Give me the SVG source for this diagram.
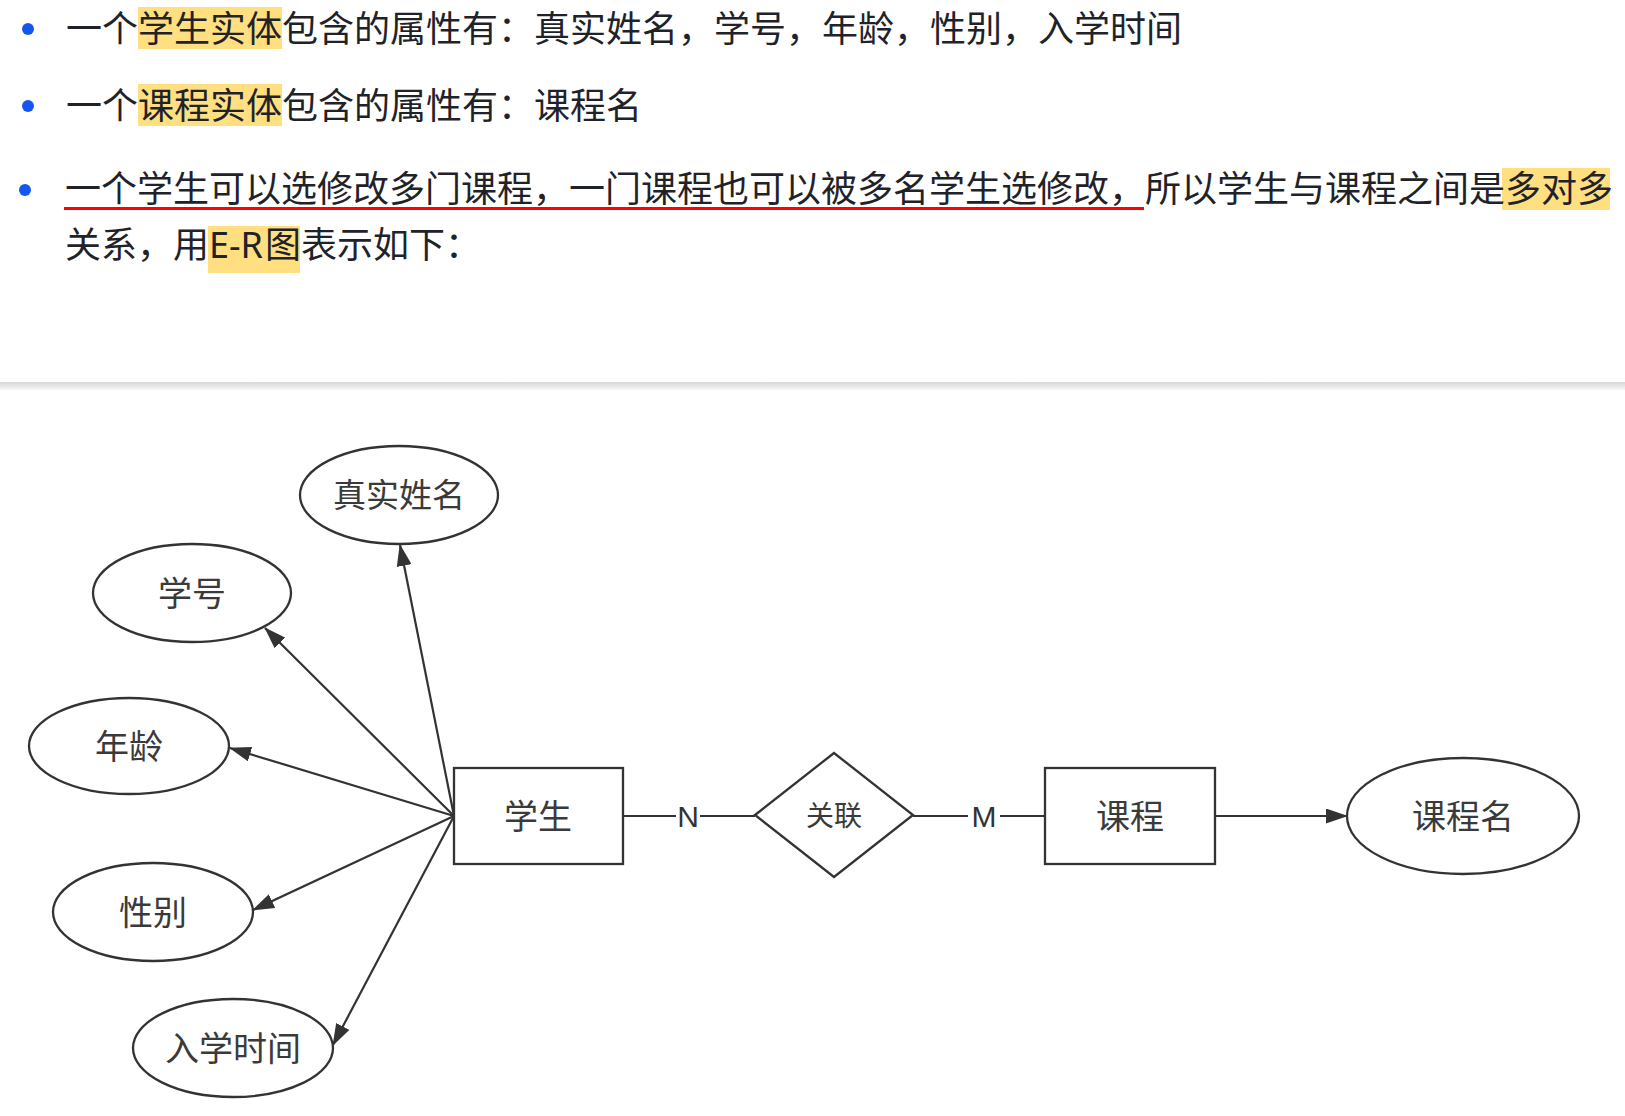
<svg xmlns="http://www.w3.org/2000/svg" width="1625" height="1116" viewBox="0 0 1625 1116">
<defs>
<style>
.t{font-family:"Noto Sans CJK SC","Noto Sans",sans-serif;font-size:36px;fill:#1f2329}
.hl{fill:#ffdf80}
.bul{fill:#1456f0}
.shape{fill:#ffffff;stroke:#333333;stroke-width:2.3}
.lbl{font-family:"Noto Sans CJK SC","Noto Sans",sans-serif;fill:#3a3a3a;text-anchor:middle}
.edge{stroke:#333333;stroke-width:2.2;fill:none}
.card{font-family:"Liberation Sans",Arial,sans-serif;font-size:30px;fill:#333333;text-anchor:middle}
</style>
<linearGradient id="sep" x1="0" y1="0" x2="0" y2="1">
<stop offset="0" stop-color="#d8d8d8"/>
<stop offset="1" stop-color="#f6f6f6"/>
</linearGradient>
<marker id="arr" viewBox="0 0 22 15" refX="21" refY="7.5" markerWidth="22" markerHeight="15" markerUnits="userSpaceOnUse" orient="auto">
<path d="M0,0 L22,7.5 L0,15 z" fill="#333333"/>
</marker>
</defs>
<rect x="0" y="0" width="1625" height="1116" fill="#ffffff"/>

<g id="text-block">
<circle class="bul" cx="28" cy="29" r="6"/>
<rect class="hl" x="138" y="7" width="144" height="42"/>
<text class="t" x="66" y="42">一个学生实体包含的属性有：真实姓名，学号，年龄，性别，入学时间</text>

<circle class="bul" cx="28" cy="106" r="6"/>
<rect class="hl" x="138" y="84" width="144" height="42"/>
<text class="t" x="66" y="119">一个课程实体包含的属性有：课程名</text>

<circle class="bul" cx="25" cy="190" r="6"/>
<rect class="hl" x="1502" y="168" width="108" height="42"/>
<rect x="64" y="207" width="1080" height="3" fill="#ff0000"/>
<text class="t" x="65" y="202">一个学生可以选修改多门课程，一门课程也可以被多名学生选修改，所以学生与课程之间是多对多</text>

<rect class="hl" x="208" y="226" width="92" height="47"/>
<text class="t" y="258"><tspan x="65">关系，用</tspan><tspan x="209" font-family="'Noto Sans',sans-serif">E-R</tspan><tspan x="265">图表示如下：</tspan></text>
</g>

<rect x="0" y="382" width="1625" height="8" fill="url(#sep)"/>

<g id="connectors">
<line class="edge" x1="454" y1="816" x2="400" y2="545" marker-end="url(#arr)"/>
<line class="edge" x1="454" y1="816" x2="265" y2="628" marker-end="url(#arr)"/>
<line class="edge" x1="454" y1="816" x2="230" y2="748" marker-end="url(#arr)"/>
<line class="edge" x1="454" y1="816" x2="253" y2="910" marker-end="url(#arr)"/>
<line class="edge" x1="454" y1="816" x2="333" y2="1045" marker-end="url(#arr)"/>
<line class="edge" x1="623" y1="816" x2="676" y2="816"/>
<text class="card" x="688" y="827">N</text>
<line class="edge" x1="700" y1="816" x2="755" y2="816"/>
<line class="edge" x1="913" y1="816" x2="968" y2="816"/>
<text class="card" x="984" y="827">M</text>
<line class="edge" x1="1000" y1="816" x2="1045" y2="816"/>
<line class="edge" x1="1215" y1="816" x2="1347" y2="816" marker-end="url(#arr)"/>
</g>

<g id="attr-name">
<ellipse class="shape" cx="399" cy="495" rx="99" ry="49"/>
<text class="lbl" x="399" y="507" font-size="33">真实姓名</text>
</g>
<g id="attr-id">
<ellipse class="shape" cx="192" cy="593" rx="99" ry="49"/>
<text class="lbl" x="192" y="606" font-size="34">学号</text>
</g>
<g id="attr-age">
<ellipse class="shape" cx="129" cy="746" rx="100" ry="48"/>
<text class="lbl" x="129" y="759" font-size="34">年龄</text>
</g>
<g id="attr-gender">
<ellipse class="shape" cx="153" cy="912" rx="100" ry="49"/>
<text class="lbl" x="153" y="925" font-size="34">性别</text>
</g>
<g id="attr-enroll">
<ellipse class="shape" cx="233" cy="1048" rx="100" ry="49"/>
<text class="lbl" x="233" y="1061" font-size="34">入学时间</text>
</g>

<g id="entity-student">
<rect class="shape" x="454" y="768" width="169" height="96"/>
<text class="lbl" x="538" y="829" font-size="34">学生</text>
</g>
<g id="relation">
<polygon class="shape" points="755,815 834,753 913,815 834,877"/>
<text class="lbl" x="834" y="826" font-size="28">关联</text>
</g>
<g id="entity-course">
<rect class="shape" x="1045" y="768" width="170" height="96"/>
<text class="lbl" x="1130" y="829" font-size="34">课程</text>
</g>
<g id="attr-coursename">
<ellipse class="shape" cx="1463" cy="816" rx="116" ry="58"/>
<text class="lbl" x="1463" y="829" font-size="34">课程名</text>
</g>
</svg>
